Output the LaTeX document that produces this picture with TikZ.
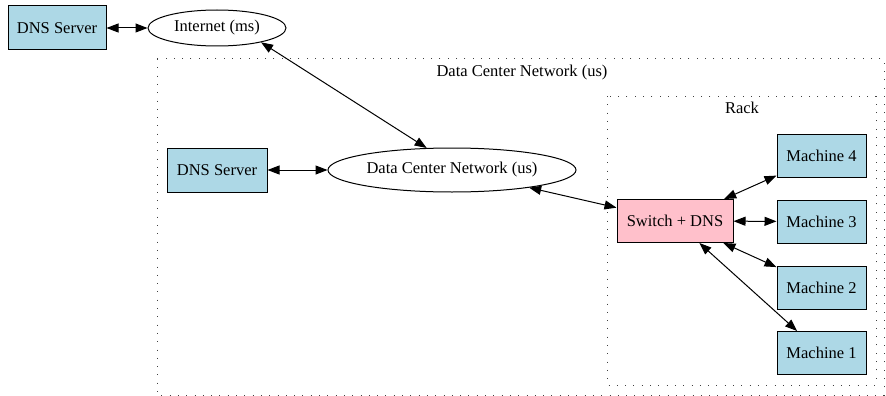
\documentclass[tikz,border=0pt]{standalone}
\usepackage{fontspec}
\setmainfont{Liberation Serif}
\usetikzlibrary{arrows.meta,shapes.geometric}
\definecolor{hostblue}{HTML}{ADD8E6}
\definecolor{switchpink}{HTML}{FFC0CB}
\tikzset{
  box/.style={draw=black, line width=1pt, rectangle, inner sep=0pt, anchor=center,
    font=\fontsize{16.5}{18}\selectfont},
  host/.style={box, fill=hostblue},
  oval/.style={draw=black, line width=1pt, ellipse, inner sep=0pt, fill=white,
    font=\fontsize{16.5}{18}\selectfont},
  cluster/.style={draw=black!75, line width=1pt, dash pattern=on 1pt off 7.3pt},
  clabel/.style={font=\fontsize{16.5}{18}\selectfont, inner sep=0pt},
  link/.style={line width=1pt, {Triangle[length=12pt,width=9pt]}-{Triangle[length=12pt,width=9pt]}}
}
\begin{document}
\begin{tikzpicture}[x=1pt, y=-1pt]
  \useasboundingbox (0,0) rectangle (886,396);

  % clusters
  \draw[cluster] (157,59) rectangle (884,395);
  \node[clabel] (dcnlabel) at (522,73) {Data Center Network (us)};
  \draw[cluster] (607,96) rectangle (876,385);
  \node[clabel] (racklabel) at (742,108) {Rack};

  % nodes
  \node[host, minimum width=98pt, minimum height=44pt] (dns1) at (57,28) {DNS Server};
  \node[oval, minimum width=138pt, minimum height=36pt] (inet) at (217,28) {Internet (ms)};
  \node[host, minimum width=100pt, minimum height=44pt] (dns2) at (217,170) {DNS Server};
  \node[oval, minimum width=248pt, minimum height=44pt] (dcn) at (452,170) {Data Center Network (us)};
  \node[box, fill=switchpink, minimum width=116pt, minimum height=43pt] (sw) at (675,221) {Switch + DNS};
  \node[host, minimum width=89pt, minimum height=43pt] (m4) at (821.5,155.5) {Machine 4};
  \node[host, minimum width=89pt, minimum height=43pt] (m3) at (821.5,221.5) {Machine 3};
  \node[host, minimum width=89pt, minimum height=43pt] (m2) at (821.5,287.5) {Machine 2};
  \node[host, minimum width=89pt, minimum height=43pt] (m1) at (821.5,353) {Machine 1};

  % links
  \draw[link] (dns1) -- (inet);
  \draw[link] (inet.-18) -- (dcn.139);
  \draw[link] (dns2) -- (dcn);
  \draw[link] (dcn) -- (sw);
  \draw[link] (sw) -- (m4);
  \draw[link] (sw) -- (m3);
  \draw[link] (sw) -- (m2);
  \draw[link] (sw) -- (m1);
\end{tikzpicture}
\end{document}
